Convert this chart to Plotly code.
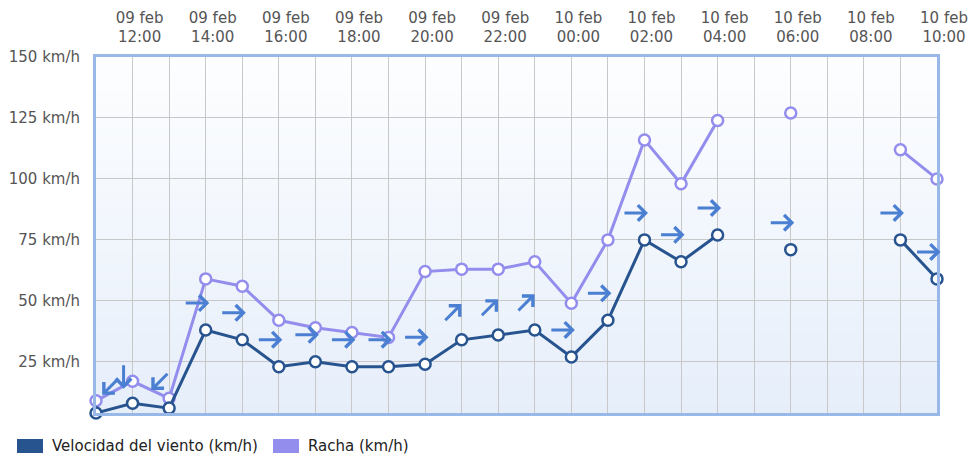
import math
import datetime as _dt
import plotly.graph_objects as go

# ---------------- data ----------------
hours = [
    "2023-02-09 11:00", "2023-02-09 12:00", "2023-02-09 13:00", "2023-02-09 14:00",
    "2023-02-09 15:00", "2023-02-09 16:00", "2023-02-09 17:00", "2023-02-09 18:00",
    "2023-02-09 19:00", "2023-02-09 20:00", "2023-02-09 21:00", "2023-02-09 22:00",
    "2023-02-09 23:00", "2023-02-10 00:00", "2023-02-10 01:00", "2023-02-10 02:00",
    "2023-02-10 03:00", "2023-02-10 04:00", "2023-02-10 05:00", "2023-02-10 06:00",
    "2023-02-10 07:00", "2023-02-10 08:00", "2023-02-10 09:00", "2023-02-10 10:00",
]
wind_speed = [4, 8, 6, 38, 34, 23, 25, 23, 23, 24, 34, 36, 38, 27, 42, 75, 66, 77,
              None, 71, None, None, 75, 59]
gust = [9, 17, 10, 59, 56, 42, 39, 37, 35, 62, 63, 63, 66, 49, 75, 116, 98, 124,
        None, 127, None, None, 112, 100]
# meteorological direction the wind blows FROM (degrees)
wind_dir = [45, 0, 45, 270, 270, 270, 270, 270, 270, 270, 225, 225, 225, 270, 270, 270,
            270, 270, None, 270, None, None, 270, 270]

tick_vals = ["2023-02-09 12:00", "2023-02-09 14:00", "2023-02-09 16:00", "2023-02-09 18:00",
             "2023-02-09 20:00", "2023-02-09 22:00", "2023-02-10 00:00", "2023-02-10 02:00",
             "2023-02-10 04:00", "2023-02-10 06:00", "2023-02-10 08:00", "2023-02-10 10:00"]
tick_text = ["09 feb<br>12:00", "09 feb<br>14:00", "09 feb<br>16:00", "09 feb<br>18:00",
             "09 feb<br>20:00", "09 feb<br>22:00", "10 feb<br>00:00", "10 feb<br>02:00",
             "10 feb<br>04:00", "10 feb<br>06:00", "10 feb<br>08:00", "10 feb<br>10:00"]
y_ticks = [25, 50, 75, 100, 125, 150]
y_tick_text = ["25 km/h", "50 km/h", "75 km/h", "100 km/h", "125 km/h", "150 km/h"]
series_names = ["Velocidad del viento (km/h)", "Racha (km/h)"]

# ---------------- style ----------------
W, H = 970, 459
ML, MR, MT, MB = 96, 33, 57, 46
PW, PH = W - ML - MR, H - MT - MB
DARK = "#27538f"
LIGHT = "#938ded"
ARROW = "#4a7fd2"
FONT = "DejaVu Sans, Verdana, sans-serif"
TXT = "#555555"
GRID = "#c8c8c8"
FRAME = "#98b8e8"
Y_RANGE = [4, 150]

fig = go.Figure()

fig.add_trace(go.Scatter(
    x=hours, y=gust, mode="lines+markers", name=series_names[1],
    line=dict(color=LIGHT, width=3), connectgaps=False,
    marker=dict(size=11, color="white", line=dict(color=LIGHT, width=2.5)),
    showlegend=False, cliponaxis=False))
fig.add_trace(go.Scatter(
    x=hours, y=wind_speed, mode="lines+markers", name=series_names[0],
    line=dict(color=DARK, width=3), connectgaps=False,
    marker=dict(size=11, color="white", line=dict(color=DARK, width=2.5)),
    showlegend=False, cliponaxis=False))

# background gradient (white top -> light blue bottom)
n_strips = 40
top_c = (253, 254, 255)
bot_c = (230, 238, 250)
for i in range(n_strips):
    f = (i + 0.5) / n_strips
    c = tuple(round(top_c[k] + (bot_c[k] - top_c[k]) * f) for k in range(3))
    fig.add_shape(type="rect", xref="paper", yref="paper",
                  x0=0, x1=1, y0=1 - (i + 1) / n_strips, y1=1 - i / n_strips + 0.001,
                  fillcolor="rgb(%d,%d,%d)" % c, line=dict(width=0), layer="below")

# wind direction arrows
L = 25
t0 = _dt.datetime.fromisoformat(hours[0])
t1 = _dt.datetime.fromisoformat(hours[-1])
span = (t1 - t0).total_seconds()
for h, ws, d in zip(hours, wind_speed, wind_dir):
    if ws is None or d is None:
        continue
    to = math.radians(d + 180)
    dx, dy = math.sin(to), math.cos(to)
    px = (_dt.datetime.fromisoformat(h) - t0).total_seconds() / span * PW
    cx = max(px - 9, 15) - px
    cy = 27
    fig.add_annotation(
        x=h, y=ws, xref="x", yref="y", text="", showarrow=True,
        ax=-L * dx, ay=L * dy, axref="pixel", ayref="pixel",
        xshift=cx + L / 2 * dx, yshift=cy + L / 2 * dy,
        arrowhead=4, arrowsize=1.0, arrowwidth=3, arrowcolor=ARROW, standoff=0)

# custom legend
def px2x(p):
    return (p - ML) / PW


def py2y(p):
    return (MT + PH - p) / PH


legend_items = [(17, 50, DARK, series_names[0]), (273, 306, LIGHT, series_names[1])]
for sx, tx, col, name in legend_items:
    fig.add_shape(type="rect", xref="paper", yref="paper",
                  x0=px2x(sx), x1=px2x(sx + 26), y0=py2y(453), y1=py2y(439),
                  fillcolor=col, line=dict(width=0))
    fig.add_annotation(x=px2x(tx), y=py2y(446), xref="paper", yref="paper",
                       text=name, showarrow=False, xanchor="left", yanchor="middle",
                       font=dict(family=FONT, size=15, color="#222222"))

fig.update_layout(
    width=W, height=H,
    margin=dict(l=ML, r=MR, t=MT, b=MB, pad=0, autoexpand=False),
    paper_bgcolor="white", plot_bgcolor="white",
    font=dict(family=FONT, size=15, color=TXT),
    xaxis=dict(
        side="top", range=[hours[0], hours[-1]], type="date", automargin=False,
        tickmode="array", tickvals=tick_vals, ticktext=tick_text, ticks="",
        ticklabelstandoff=6, ticklabelshift=7,
        showgrid=True, gridcolor=GRID, gridwidth=1,
        showline=True, linecolor=FRAME, linewidth=3, mirror=True, zeroline=False,
        minor=dict(showgrid=True, gridcolor=GRID, dtick=3600000, tick0=hours[0]),
    ),
    yaxis=dict(
        range=Y_RANGE, tickvals=y_ticks, ticktext=y_tick_text, ticks="",
        ticklabelstandoff=10, automargin=False,
        showgrid=True, gridcolor=GRID, gridwidth=1,
        showline=True, linecolor=FRAME, linewidth=3, mirror=True, zeroline=False,
    ),
)

fig.write_html("out.html",
               config={"displayModeBar": False},
               post_script="document.body.style.margin='0';"
                           "document.body.style.overflow='hidden';")
